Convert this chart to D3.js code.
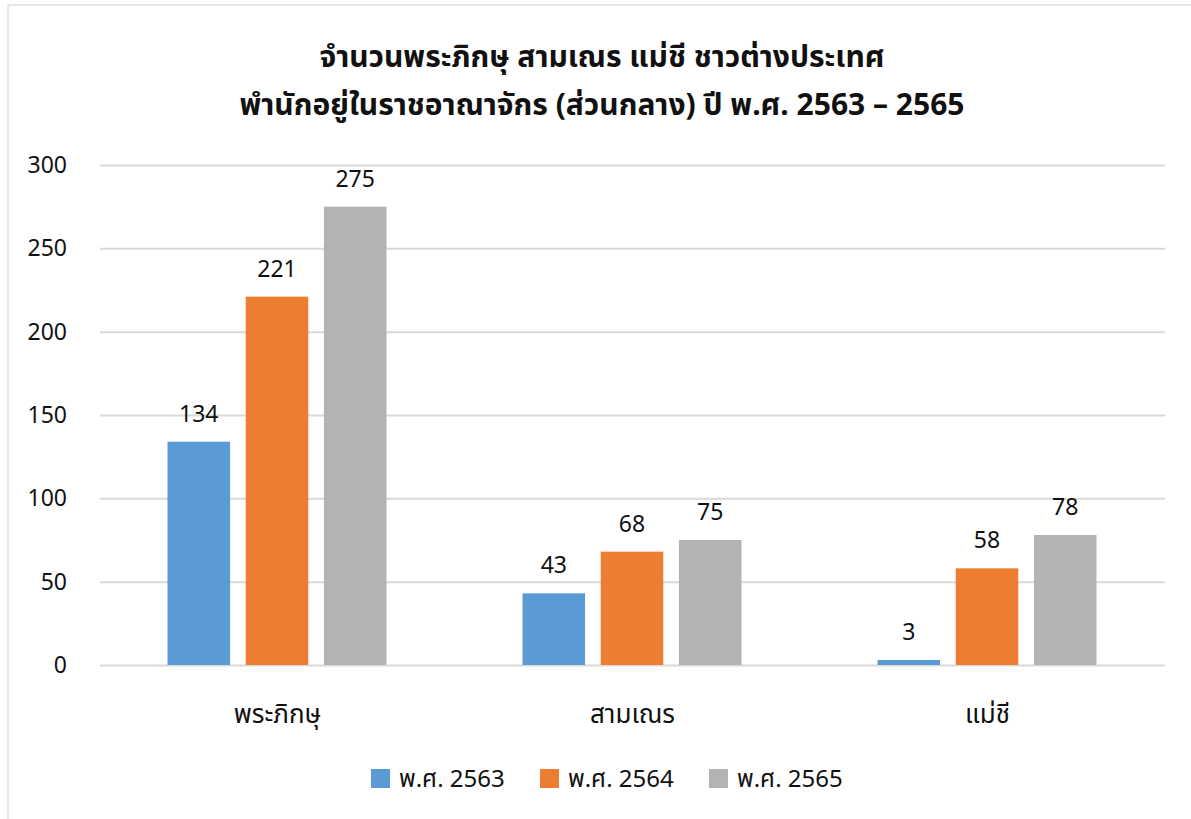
<!DOCTYPE html>
<html>
<head>
<meta charset="utf-8">
<script src="https://cdn.jsdelivr.net/npm/d3@7"></script>
<style>
  body { margin: 0; background: #fff; }
  svg text { font-family: "Noto Sans", "Noto Sans Thai", Tahoma, "DejaVu Sans", sans-serif; fill: #111; }
  .grid line { stroke: #d9d9d9; stroke-width: 2px; }
</style>
</head>
<body>
<div id="chart"></div>
<script>
// data
var categories = ["พระภิกษุ", "สามเณร", "แม่ชี"];
var years = ["พ.ศ. 2563", "พ.ศ. 2564", "พ.ศ. 2565"];
var values2563 = [134, 43, 3];
var values2564 = [221, 68, 58];
var values2565 = [275, 75, 78];
var yTicks = [0, 50, 100, 150, 200, 250, 300];
var colors = ["#5b9bd5", "#ed7d31", "#b3b3b3"];
var titleLines = ["จำนวนพระภิกษุ สามเณร แม่ชี ชาวต่างประเทศ",
                  "พำนักอยู่ในราชอาณาจักร (ส่วนกลาง) ปี พ.ศ. 2563 – 2565"];

var series = [values2563, values2564, values2565];

var W = 1191, H = 819;
var margin = {top: 165, right: 26, bottom: 154, left: 100};
var width = W - margin.left - margin.right,
    height = H - margin.top - margin.bottom;

var svg = d3.select("#chart").append("svg")
  .attr("width", W).attr("height", H);

// outer frame (only top and left visible)
svg.append("line").attr("x1", 8).attr("x2", W).attr("y1", 5).attr("y2", 5)
  .attr("stroke", "#e6e6e6").attr("stroke-width", 2);
svg.append("line").attr("x1", 8).attr("x2", 8).attr("y1", 5).attr("y2", H)
  .attr("stroke", "#e6e6e6").attr("stroke-width", 2);

// title
svg.append("g").selectAll("text")
  .data(titleLines)
  .join("text")
  .attr("x", 602)
  .attr("y", (d, i) => 67 + i * 48)
  .attr("text-anchor", "middle")
  .attr("font-size", 30)
  .attr("font-weight", "bold")
  .text(d => d);

var g = svg.append("g")
  .attr("transform", "translate(" + margin.left + "," + margin.top + ")");

var x0 = d3.scaleBand().domain(categories).range([0, width]);
var x1 = d3.scaleBand().domain(years).range([0, 219]).paddingInner(0.2);
var y = d3.scaleLinear().domain([0, 300]).range([height, 0]);

// gridlines
g.append("g").attr("class", "grid")
  .call(d3.axisLeft(y).tickValues(yTicks).tickSize(-width).tickFormat(""))
  .call(a => a.select(".domain").remove());

// y labels
g.append("g").selectAll("text")
  .data(yTicks)
  .join("text")
  .attr("x", -33)
  .attr("y", d => y(d))
  .attr("dy", "0.35em")
  .attr("text-anchor", "end")
  .attr("font-size", 23)
  .text(d => d);

// bars
var groups = g.selectAll(".cat")
  .data(categories)
  .join("g")
  .attr("class", "cat")
  .attr("transform", d => "translate(" + (x0(d) + x0.bandwidth() / 2 - 110) + ",0)");

groups.selectAll("rect")
  .data((c, ci) => years.map((yr, si) => ({yr: yr, v: series[si][ci], si: si})))
  .join("rect")
  .attr("x", d => x1(d.yr))
  .attr("y", d => y(d.v))
  .attr("width", x1.bandwidth())
  .attr("height", d => height - y(d.v))
  .attr("fill", d => colors[d.si]);

groups.selectAll("text.val")
  .data((c, ci) => years.map((yr, si) => ({yr: yr, v: series[si][ci], si: si})))
  .join("text")
  .attr("class", "val")
  .attr("x", d => x1(d.yr) + x1.bandwidth() / 2)
  .attr("y", d => y(d.v) - 20)
  .attr("text-anchor", "middle")
  .attr("font-size", 23)
  .text(d => d.v);

// category labels
g.append("g").selectAll("text")
  .data(categories)
  .join("text")
  .attr("x", d => x0(d) + x0.bandwidth() / 2)
  .attr("y", height + 58)
  .attr("text-anchor", "middle")
  .attr("font-size", 26)
  .text(d => d);

// legend
var legendX = [371, 540, 709];
var legend = svg.append("g").selectAll("g")
  .data(years)
  .join("g")
  .attr("transform", (d, i) => "translate(" + legendX[i] + ",769)");
legend.append("rect")
  .attr("width", 19).attr("height", 19)
  .attr("fill", (d, i) => colors[i]);
legend.append("text")
  .attr("x", 28).attr("y", 10).attr("dy", "0.35em")
  .attr("font-size", 24)
  .text(d => d);
</script>
</body>
</html>
